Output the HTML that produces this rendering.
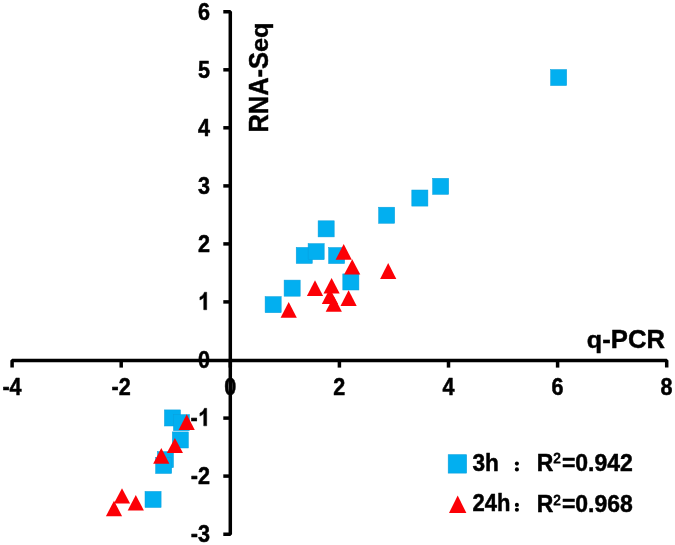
<!DOCTYPE html>
<html><head><meta charset="utf-8"><title>chart</title>
<style>
html,body{margin:0;padding:0;background:#fff;}
body{width:675px;height:545px;overflow:hidden;}
svg{display:block;will-change:transform;filter:blur(0.35px);}
text{font-family:"Liberation Sans",sans-serif;font-weight:bold;fill:#000;stroke:#000;stroke-width:0.45px;stroke-linejoin:round;}
.t{font-size:22px;}
</style></head><body>
<svg width="675" height="545" viewBox="0 0 675 545">
<rect width="675" height="545" fill="#fff"/>
<g fill="#02aff0" stroke="#0b9fdc" stroke-width="0.5">
<rect x="265.1" y="296.6" width="16.1" height="16.1"/>
<rect x="284.1" y="280.1" width="16.1" height="16.1"/>
<rect x="296.2" y="247.4" width="16.1" height="16.1"/>
<rect x="308.1" y="243.6" width="16.1" height="16.1"/>
<rect x="318.1" y="220.8" width="16.1" height="16.1"/>
<rect x="328.6" y="247.5" width="16.1" height="16.1"/>
<rect x="342.8" y="273.9" width="16.1" height="16.1"/>
<rect x="378.6" y="207.2" width="16.1" height="16.1"/>
<rect x="411.8" y="190.0" width="16.1" height="16.1"/>
<rect x="432.6" y="178.3" width="16.1" height="16.1"/>
<rect x="550.6" y="69.5" width="16.1" height="16.1"/>
<rect x="164.4" y="409.9" width="16.1" height="16.1"/>
<rect x="173.4" y="414.6" width="16.1" height="16.1"/>
<rect x="172.3" y="431.9" width="16.1" height="16.1"/>
<rect x="157.4" y="451.6" width="16.1" height="16.1"/>
<rect x="155.6" y="457.4" width="16.1" height="16.1"/>
<rect x="145.0" y="491.4" width="16.1" height="16.1"/>
</g>
<g fill="#fc0006">
<polygon points="288.7,301.9 296.8,317.7 280.6,317.7"/>
<polygon points="315.0,280.3 323.1,295.9 306.9,295.9"/>
<polygon points="331.6,277.9 339.7,293.5 323.5,293.5"/>
<polygon points="329.9,288.5 338.0,303.9 321.8,303.9"/>
<polygon points="333.8,296.3 341.9,311.7 325.7,311.7"/>
<polygon points="348.6,290.2 356.7,305.9 340.5,305.9"/>
<polygon points="343.7,244.1 351.8,259.7 335.6,259.7"/>
<polygon points="352.2,259.3 360.3,274.4 344.1,274.4"/>
<polygon points="388.2,263.1 396.3,278.9 380.1,278.9"/>
<polygon points="186.7,414.3 194.8,430.0 178.6,430.0"/>
<polygon points="174.9,437.9 183.0,453.1 166.8,453.1"/>
<polygon points="161.3,448.0 169.4,463.7 153.2,463.7"/>
<polygon points="122.0,488.2 130.1,503.6 113.9,503.6"/>
<polygon points="135.8,495.1 143.9,510.5 127.7,510.5"/>
<polygon points="114.0,500.8 122.1,516.2 105.9,516.2"/>
</g>
<g stroke="#000" fill="none" stroke-linejoin="bevel">
<path d="M12.10,367.55 V360.45 H666.70 V367.55" stroke-width="3.5"/>
<path d="M223.30,11.70 H230.30 V534.15 H223.30" stroke-width="3.5"/>
<line x1="121.2" y1="360.4" x2="121.2" y2="367.6" stroke-width="3.5"/>
<line x1="230.3" y1="360.4" x2="230.3" y2="367.6" stroke-width="3.5"/>
<line x1="339.4" y1="360.4" x2="339.4" y2="367.6" stroke-width="3.5"/>
<line x1="448.5" y1="360.4" x2="448.5" y2="367.6" stroke-width="3.5"/>
<line x1="557.6" y1="360.4" x2="557.6" y2="367.6" stroke-width="3.5"/>
<line x1="223.3" y1="476.1" x2="230.3" y2="476.1" stroke-width="3.5"/>
<line x1="223.3" y1="418.1" x2="230.3" y2="418.1" stroke-width="3.5"/>
<line x1="223.3" y1="301.9" x2="230.3" y2="301.9" stroke-width="3.5"/>
<line x1="223.3" y1="243.9" x2="230.3" y2="243.9" stroke-width="3.5"/>
<line x1="223.3" y1="185.9" x2="230.3" y2="185.9" stroke-width="3.5"/>
<line x1="223.3" y1="127.8" x2="230.3" y2="127.8" stroke-width="3.5"/>
<line x1="223.3" y1="69.8" x2="230.3" y2="69.8" stroke-width="3.5"/>
</g>
<g class="t" text-anchor="end">
<text transform="translate(209.90,541.95) scale(1.0000,1.1350)" font-size="21.6" text-anchor="end">-3</text>
<text transform="translate(209.90,483.90) scale(1.0000,1.1350)" font-size="21.6" text-anchor="end">-2</text>
<path transform="translate(198.19,425.85) scale(0.010547,-0.011971)" d="M806,0 H524 V1028 Q374,883 162,813 V1063 Q273,1099 404,1200 Q535,1302 584,1466 H806 Z" fill="#000" stroke="#000" stroke-width="0.45" stroke-linejoin="round" vector-effect="non-scaling-stroke"/>
<text transform="translate(197.79,425.85) scale(1.0000,1.1350)" font-size="21.6" text-anchor="end">-</text>
<text transform="translate(209.90,367.80) scale(1.0000,1.1350)" font-size="21.6" text-anchor="end">0</text>
<path transform="translate(198.19,309.75) scale(0.010547,-0.011971)" d="M806,0 H524 V1028 Q374,883 162,813 V1063 Q273,1099 404,1200 Q535,1302 584,1466 H806 Z" fill="#000" stroke="#000" stroke-width="0.45" stroke-linejoin="round" vector-effect="non-scaling-stroke"/>
<text transform="translate(209.90,251.70) scale(1.0000,1.1350)" font-size="21.6" text-anchor="end">2</text>
<text transform="translate(209.90,193.65) scale(1.0000,1.1350)" font-size="21.6" text-anchor="end">3</text>
<text transform="translate(209.90,135.60) scale(1.0000,1.1350)" font-size="21.6" text-anchor="end">4</text>
<text transform="translate(209.90,77.55) scale(1.0000,1.1350)" font-size="21.6" text-anchor="end">5</text>
<text transform="translate(209.90,19.50) scale(1.0000,1.1350)" font-size="21.6" text-anchor="end">6</text>
</g>
<g class="t" text-anchor="middle">
<text transform="translate(12.00,395.35) scale(1.0000,1.1250)" font-size="21.6" text-anchor="middle">-4</text>
<text transform="translate(121.10,395.35) scale(1.0000,1.1250)" font-size="21.6" text-anchor="middle">-2</text>
<text transform="translate(230.20,395.35) scale(1.0000,1.1250)" font-size="21.6" text-anchor="middle">0</text>
<text transform="translate(339.30,395.35) scale(1.0000,1.1250)" font-size="21.6" text-anchor="middle">2</text>
<text transform="translate(448.40,395.35) scale(1.0000,1.1250)" font-size="21.6" text-anchor="middle">4</text>
<text transform="translate(557.50,395.35) scale(1.0000,1.1250)" font-size="21.6" text-anchor="middle">6</text>
<text transform="translate(666.60,395.35) scale(1.0000,1.1250)" font-size="21.6" text-anchor="middle">8</text>
</g>
<text transform="translate(586.70,347.60) scale(0.9850,0.9400)" font-size="25.5" text-anchor="start">q</text>
<text transform="translate(602.28,347.60) scale(1.0064,1.0000)" font-size="25.5" text-anchor="start">-PCR</text>
<text transform="translate(267.6,132.6) rotate(-90) scale(0.9785,1.04)" font-size="26">RNA-S</text>
<text transform="translate(267.6,52.05) rotate(-90) scale(0.9785,0.93)" font-size="26">eq</text>
<rect x="448.2" y="454.7" width="18.4" height="18.4" fill="#02aff0" stroke="#0b9fdc" stroke-width="0.6"/>
<polygon points="457.7,495.6 466.4,513.1 449.0,513.1" fill="#fc0006"/>
<g class="t">
<text transform="translate(472.50,470.90) scale(1.0300,1.0850)" font-size="22" text-anchor="start" stroke-width="0.1">3h</text>
<text transform="translate(472.60,511.40) scale(1.0000,1.0850)" font-size="22" text-anchor="start" stroke-width="0.1">24h</text>
<circle cx="516.9" cy="463.6" r="2.05"/><circle cx="516.9" cy="469.4" r="2.05"/>
<circle cx="516.9" cy="504.9" r="2.05"/><circle cx="516.9" cy="509.8" r="2.05"/>
<text transform="translate(536.80,470.70) scale(1.0450,1.0600)" font-size="22" text-anchor="start">R<tspan font-size="13" dy="-6.8" dx="-0.2" font-weight="normal" stroke-width="0.85">2</tspan><tspan dy="6.8" dx="1.1">=0.942</tspan></text>
<text transform="translate(536.80,512.00) scale(1.0450,1.0600)" font-size="22" text-anchor="start">R<tspan font-size="13" dy="-6.8" dx="-0.2" font-weight="normal" stroke-width="0.85">2</tspan><tspan dy="6.8" dx="1.1">=0.968</tspan></text>
</g>
</svg></body></html>
